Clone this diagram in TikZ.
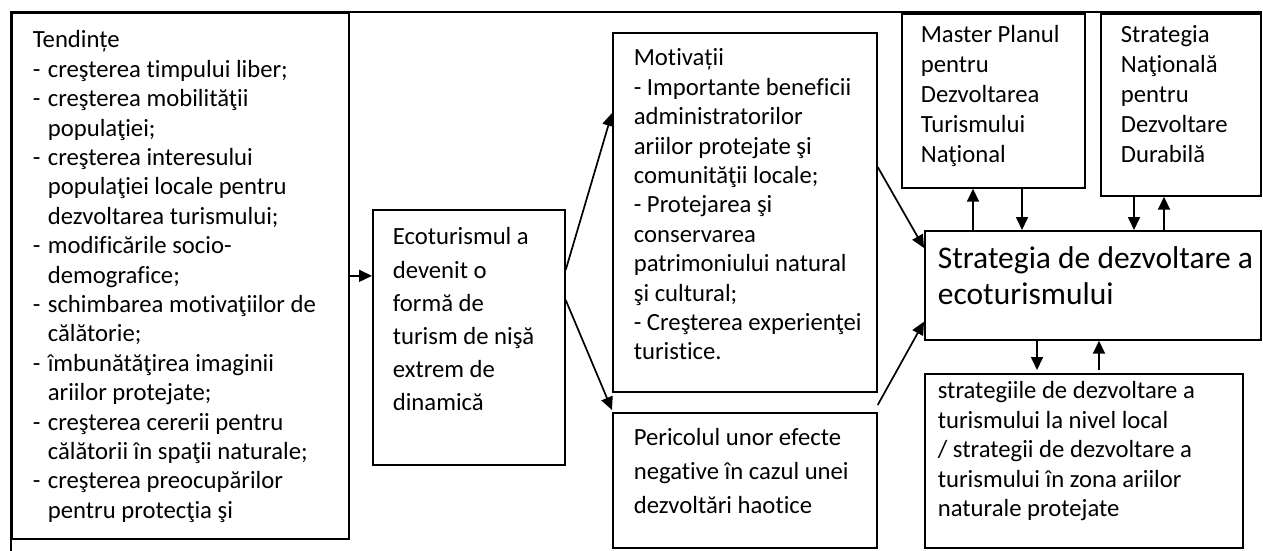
\documentclass[tikz,border=0pt]{standalone}
\usepackage{fontspec}
\setmainfont{Carlito}[Ligatures={NoCommon}]
\usetikzlibrary{arrows.meta}
\newcommand{\itm}{\makebox[15pt][l]{-}}
\newcommand{\ind}{\hspace*{15pt}}
\begin{document}
\begin{tikzpicture}[x=1pt,y=-1pt,line width=1.7pt,
    box/.style={draw,inner sep=0pt,anchor=north west},
    txt/.style={inner sep=0pt,anchor=north west,align=left,font=\fontsize{24.7}{29.4}\selectfont},
    arr/.style={-{Triangle[length=13pt,width=12pt]}}]
    \useasboundingbox (0,0) rectangle (1263,551);
    \draw[line width=2.2pt] (10,12) -- (1262,12);
    \draw[line width=2.2pt] (11,12) -- (11,551);
    \node[box,minimum width=337pt,minimum height=526pt] (tend) at (11,12) {};
    \node[box,minimum width=192pt,minimum height=255pt] (eco) at (372,209) {};
    \node[box,minimum width=264pt,minimum height=359pt] (motiv) at (612,32) {};
    \node[box,minimum width=264pt,minimum height=135pt] (peric) at (612,412) {};
    \node[box,minimum width=183pt,minimum height=174pt] (master) at (901,13) {};
    \node[box,minimum width=160pt,minimum height=182pt] (natl) at (1100,13) {};
    \node[box,minimum width=336pt,minimum height=109pt] (strat) at (924,230) {};
    \node[box,minimum width=318pt,minimum height=174pt] (local) at (924,373) {};
    \node[txt] (tendtxt) at ([xshift=21pt,yshift=-14.4pt]tend.north west) {\strut Tendințe\\
        \itm creşterea timpului liber;\\
        \itm creşterea mobilităţii\\
        \ind populaţiei;\\
        \itm creşterea interesului\\
        \ind populaţiei locale pentru\\
        \ind dezvoltarea turismului;\\
        \itm modificările socio-\\
        \ind demografice;\\
        \itm schimbarea motivaţiilor de\\
        \ind călătorie;\\
        \itm îmbunătăţirea imaginii\\
        \ind ariilor protejate;\\
        \itm creşterea cererii pentru\\
        \ind călătorii în spaţii naturale;\\
        \itm creşterea preocupărilor\\
        \ind pentru protecţia şi};
    \node[txt,font=\fontsize{24.7}{33.2}\selectfont] (ecotxt) at ([xshift=20pt,yshift=-11.8pt]eco.north west)
        {\strut Ecoturismul a\\ devenit o\\ formă de\\ turism de nişă\\ extrem de\\ dinamică};
    \node[txt] (motivtxt) at ([xshift=21pt,yshift=-12.4pt]motiv.north west) {\strut Motivații\\
        - Importante beneficii\\ administratorilor\\ ariilor protejate şi\\ comunităţii locale;\\
        - Protejarea şi\\ conservarea\\ patrimoniului natural\\ şi cultural;\\
        - Creşterea experienţei\\ turistice.};
    \node[txt,font=\fontsize{24.7}{34}\selectfont] (perictxt) at ([xshift=21pt,yshift=-9.2pt]peric.north west)
        {\strut Pericolul unor efecte\\ negative în cazul unei\\ dezvoltări haotice};
    \node[txt,font=\fontsize{24.7}{30}\selectfont] (mastertxt) at ([xshift=19pt,yshift=-8pt]master.north west)
        {\strut Master Planul\\ pentru\\ Dezvoltarea\\ Turismului\\ Naţional};
    \node[txt,font=\fontsize{24.7}{30}\selectfont] (natltxt) at ([xshift=20pt,yshift=-8pt]natl.north west)
        {\strut Strategia\\ Naţională\\ pentru\\ Dezvoltare\\ Durabilă};
    \node[txt,font=\fontsize{31.5}{36}\selectfont] (strattxt) at ([xshift=13pt,yshift=-12.8pt]strat.north west)
        {\strut Strategia de dezvoltare a\\ ecoturismului};
    \node[txt] (localtxt) at ([xshift=13pt,yshift=-4.4pt]local.north west)
        {\strut strategiile de dezvoltare a\\ turismului la nivel local\\ / strategii de dezvoltare a\\
        turismului în zona ariilor\\ naturale protejate};
    \draw[arr] (tend.east) -- (tend.east -| eco.west);
    \draw[arr] ([yshift=-61pt]eco.north east) -- ([yshift=-81pt]motiv.north west);
    \draw[arr] ([yshift=-91pt]eco.north east) -- ([yshift=2pt]peric.north west);
    \draw[arr] ([yshift=-135pt]motiv.north east) -- ([yshift=-18pt]strat.north west);
    \draw[arr] ([yshift=7pt]peric.north east) -- ([yshift=19pt]strat.south west);
    \draw[arr] ([xshift=49pt]strat.north west) -- ([xshift=49pt]strat.north west |- master.south);
    \draw[arr] ([xshift=98pt]strat.north west |- master.south) -- ([xshift=98pt]strat.north west);
    \draw[arr] ([xshift=210pt]strat.north west |- natl.south) -- ([xshift=210pt]strat.north west);
    \draw[arr] ([xshift=240pt]strat.north west) -- ([xshift=240pt]strat.north west |- natl.south);
    \draw[arr] ([xshift=113pt]strat.south west) -- ([xshift=113pt,yshift=3pt]strat.south west |- local.north);
    \draw[arr] ([xshift=175pt,yshift=3pt]strat.south west |- local.north) -- ([xshift=175pt]strat.south west);
\end{tikzpicture}
\end{document}
